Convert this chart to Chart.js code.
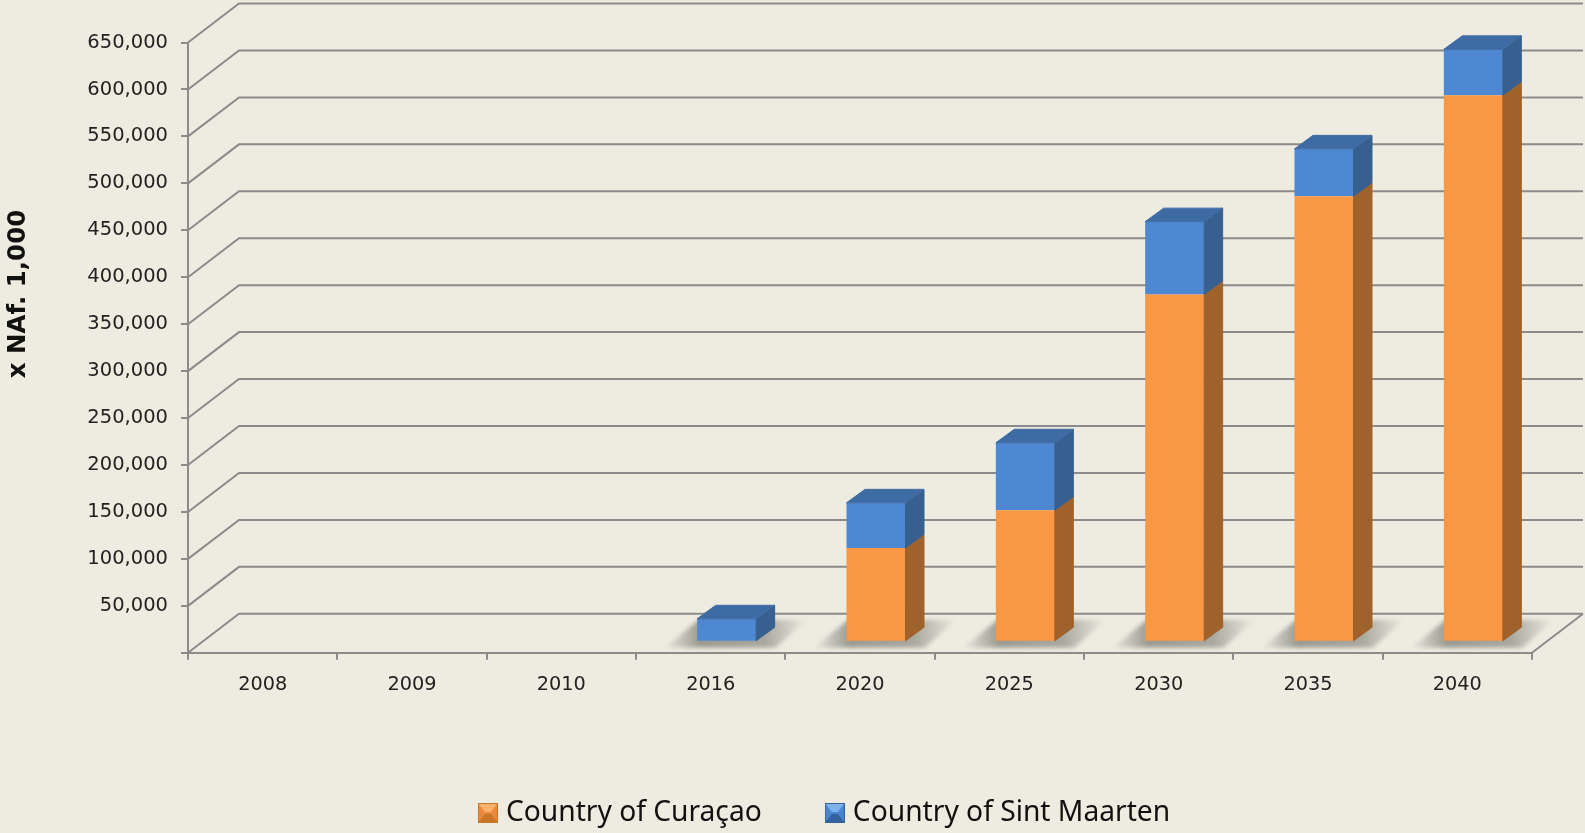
<!DOCTYPE html>
<html>
<head>
<meta charset="utf-8">
<title>x NAf. 1,000</title>
<script src="https://cdn.jsdelivr.net/npm/chart.js@4"></script>
<style>
  html, body { margin: 0; padding: 0; background: #eeece1; overflow: hidden; }
  canvas { display: block; }
</style>
</head>
<body>
<canvas id="chart" width="1585" height="833"></canvas>
<script>
// Datos
const years = ['2008', '2009', '2010', '2016', '2020', '2025', '2030', '2035', '2040'];
const curacao = [0, 0, 0, 0, 100000, 140000, 370000, 474500, 582000];
const sintMaarten = [0, 0, 0, 24500, 48000, 72000, 77500, 50500, 49000];
const axisTitle = 'x NAf. 1,000';

// Profundidad del efecto 3D
const wallDx = 51, wallDy = -39;
const barDx = 16, barDy = -11;
const sideDx = 18.5, sideDy = -13.5;
const lineColor = '#8b8b8b';
const faces = [
  { front: '#f99745', side: '#a0622b', top: '#a0622b', swatch: ['#fbb26f', '#e98a3a', '#c97528'] },
  { front: '#4f88d2', side: '#375f8f', top: '#3f6ba4', swatch: ['#7fb2ea', '#4a86d0', '#33639f'] }
];

// Cuadrito de la leyenda, con bisel
function makeSwatch(c) {
  const s = document.createElement('canvas');
  s.width = 20; s.height = 20;
  const g = s.getContext('2d');
  const tri = (color, pts) => {
    g.fillStyle = color;
    g.beginPath();
    pts.forEach((p, i) => i ? g.lineTo(p[0], p[1]) : g.moveTo(p[0], p[1]));
    g.closePath();
    g.fill();
  };
  tri(c[1], [[0, 0], [20, 0], [20, 20], [0, 20]]);
  tri(c[0], [[0, 0], [20, 0], [13, 9], [7, 9]]);
  tri(c[2], [[0, 20], [20, 20], [13, 11], [7, 11]]);
  g.strokeStyle = c[2];
  g.strokeRect(0.5, 0.5, 19, 19);
  return s;
}

// Paredes y piso detras de las barras
const wallsPlugin = {
  id: 'walls',
  beforeDatasetsDraw(chart) {
    const { ctx, chartArea, scales } = chart;
    const left = chartArea.left, right = chartArea.right;
    ctx.save();
    ctx.strokeStyle = lineColor;
    ctx.lineWidth = 2;
    scales.y.ticks.forEach(t => {
      const y = scales.y.getPixelForValue(t.value);
      ctx.beginPath();
      ctx.moveTo(left, y);
      ctx.lineTo(left + wallDx, y + wallDy);
      ctx.lineTo(right + wallDx, y + wallDy);
      ctx.stroke();
    });
    const y0 = scales.y.getPixelForValue(0);
    ctx.beginPath();
    ctx.moveTo(right + wallDx, y0 + wallDy);
    ctx.lineTo(right, y0);
    ctx.stroke();

    // sombras sobre el piso
    const meta = chart.getDatasetMeta(0);
    const w = meta.data[0].width;
    years.forEach((year, i) => {
      if (curacao[i] + sintMaarten[i] === 0) return;
      const xL = meta.data[i].x - w / 2 + barDx;
      const yB = y0 + barDy;
      const grad = ctx.createLinearGradient(xL - 33, 0, xL + 110, 0);
      grad.addColorStop(0, 'rgba(100,100,92,0)');
      grad.addColorStop(0.25, 'rgba(100,100,92,0.6)');
      grad.addColorStop(0.7, 'rgba(100,100,92,0.5)');
      grad.addColorStop(1, 'rgba(100,100,92,0)');
      ctx.save();
      ctx.filter = 'blur(2px)';
      ctx.fillStyle = grad;
      ctx.beginPath();
      ctx.moveTo(xL - 33, yB + 6);
      ctx.lineTo(xL + 2, yB - 22);
      ctx.lineTo(xL + 110, yB - 22);
      ctx.lineTo(xL + 78, yB + 6);
      ctx.closePath();
      ctx.fill();
      ctx.restore();
    });
    ctx.restore();
    // las caras frontales van corridas hacia el fondo
    ctx.save();
    ctx.translate(barDx, barDy);
  },
  afterDatasetsDraw(chart) {
    const { ctx } = chart;
    const poly = (color, pts) => {
      ctx.fillStyle = color;
      ctx.strokeStyle = color;
      ctx.lineWidth = 1;
      ctx.lineJoin = 'round';
      ctx.beginPath();
      pts.forEach((p, i) => i ? ctx.lineTo(p[0], p[1]) : ctx.moveTo(p[0], p[1]));
      ctx.closePath();
      ctx.fill();
      ctx.stroke();
    };
    years.forEach((year, i) => {
      let topBar = null, topFace = null;
      [curacao, sintMaarten].forEach((serie, d) => {
        if (!serie[i]) return;
        const el = chart.getDatasetMeta(d).data[i];
        const xr = el.x + el.width / 2;
        poly(faces[d].side, [[xr, el.y], [xr + sideDx, el.y + sideDy], [xr + sideDx, el.base + sideDy], [xr, el.base]]);
        topBar = el;
        topFace = faces[d];
      });
      if (topBar) {
        const xl = topBar.x - topBar.width / 2, xr = topBar.x + topBar.width / 2, y = topBar.y;
        poly(topFace.top, [[xl, y], [xl + sideDx, y + sideDy], [xr + sideDx, y + sideDy], [xr, y]]);
      }
    });
    ctx.restore();
  },
  afterLayout(chart) {
    // leyenda corrida a la derecha, como en la imagen
    const lg = chart.legend;
    lg.left += 61;
    lg.right += 61;
    lg.top = 813 - lg.options.labels.padding - lg.options.labels.font.size / 2;
  },
  afterDraw(chart) {
    const { ctx } = chart;
    ctx.save();
    ctx.translate(18.5, 294);
    ctx.rotate(-Math.PI / 2);
    ctx.font = 'bold 24.5px "DejaVu Sans"';
    ctx.fillStyle = '#111';
    ctx.textAlign = 'center';
    ctx.textBaseline = 'middle';
    ctx.fillText(axisTitle, 0, 0);
    ctx.restore();
  }
};

const swatches = faces.map(f => makeSwatch(f.swatch));

new Chart(document.getElementById('chart').getContext('2d'), {
  type: 'bar',
  data: {
    labels: years,
    datasets: [
      { label: 'Country of Curaçao', data: curacao, backgroundColor: faces[0].front },
      { label: 'Country of Sint Maarten', data: sintMaarten, backgroundColor: faces[1].front }
    ]
  },
  options: {
    responsive: false,
    animation: false,
    categoryPercentage: 1,
    barPercentage: 0.395,
    layout: { padding: { left: 0, right: 53, top: 42.5, bottom: 0 } },
    plugins: {
      tooltip: { enabled: false },
      legend: {
        position: 'bottom',
        labels: {
          color: '#111',
          font: { family: '"Noto Sans"', size: 28.2 },
          padding: 69,
          usePointStyle: true,
          pointStyleWidth: 8,
          boxHeight: 20,
          generateLabels(chart) {
            const items = Chart.defaults.plugins.legend.labels.generateLabels(chart);
            items.forEach((item, i) => { item.pointStyle = swatches[i]; });
            return items;
          }
        }
      }
    },
    scales: {
      x: {
        stacked: true,
        afterFit(scale) { scale.height = 73; },
        grid: { color: lineColor, lineWidth: 2, drawOnChartArea: false, tickLength: 7 },
        border: { color: lineColor, width: 2 },
        ticks: { color: '#222', font: { family: '"DejaVu Sans"', size: 19.3 }, padding: 14, maxRotation: 0 }
      },
      y: {
        stacked: true,
        min: 0,
        max: 650000,
        afterFit(scale) { scale.width = 188; },
        grid: { color: lineColor, lineWidth: 2, drawOnChartArea: false, tickLength: 7 },
        border: { color: lineColor, width: 2 },
        ticks: {
          stepSize: 50000,
          autoSkip: false,
          color: '#222',
          font: { family: '"DejaVu Sans"', size: 19.5 },
          padding: 13,
          callback: v => v === 0 ? '' : v.toLocaleString('en-US')
        }
      }
    }
  },
  plugins: [wallsPlugin]
});
</script>
</body>
</html>
